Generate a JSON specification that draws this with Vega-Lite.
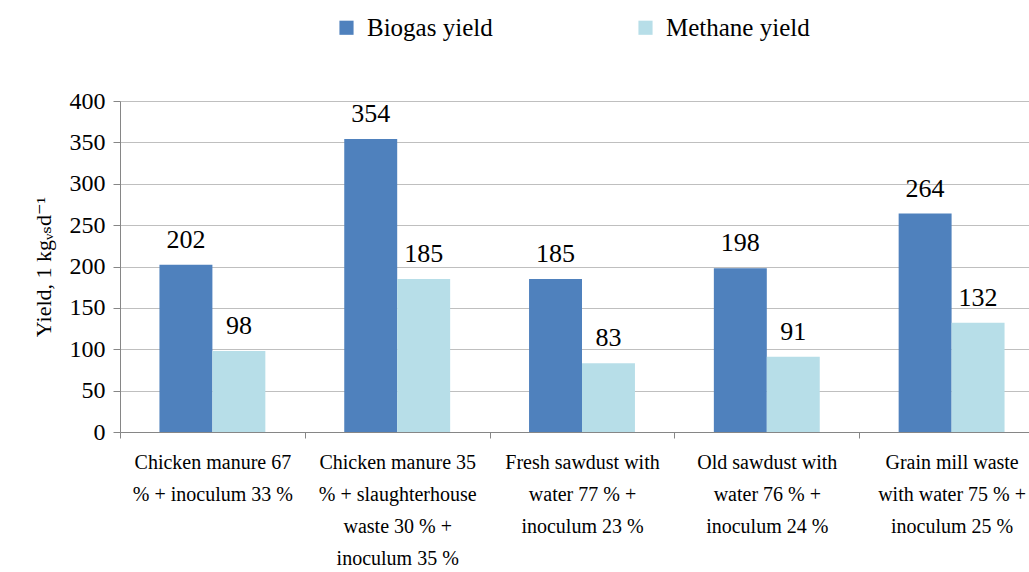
{
  "$schema": "https://vega.github.io/schema/vega-lite/v6.json",
  "width": 924,
  "height": 331,
  "autosize": {"type": "none"},
  "padding": {"left": 120, "top": 101, "right": 0, "bottom": 140},
  "background": "white",
  "config": {
    "view": {"stroke": null},
    "font": "'Liberation Serif', 'DejaVu Serif'",
    "axis": {"labelFont": "'Liberation Serif', 'DejaVu Serif'", "titleFont": "'Liberation Serif', 'DejaVu Serif'", "labelColor": "black", "titleColor": "black", "domainColor": "#868686", "tickColor": "#868686"},
    "legend": {"labelFont": "'Liberation Serif', 'DejaVu Serif'", "labelColor": "black"},
    "text": {"font": "'Liberation Serif', 'DejaVu Serif'"}
  },
  "data": {
    "values": [
      {"cat": "Chicken manure 67|% + inoculum 33 %", "series": "Biogas yield", "value": 202},
      {"cat": "Chicken manure 67|% + inoculum 33 %", "series": "Methane yield", "value": 98},
      {"cat": "Chicken manure 35|% + slaughterhouse|waste 30 % +|inoculum 35 %", "series": "Biogas yield", "value": 354},
      {"cat": "Chicken manure 35|% + slaughterhouse|waste 30 % +|inoculum 35 %", "series": "Methane yield", "value": 185},
      {"cat": "Fresh sawdust with|water 77 % +|inoculum 23 %", "series": "Biogas yield", "value": 185},
      {"cat": "Fresh sawdust with|water 77 % +|inoculum 23 %", "series": "Methane yield", "value": 83},
      {"cat": "Old sawdust with|water 76 % +|inoculum 24 %", "series": "Biogas yield", "value": 198},
      {"cat": "Old sawdust with|water 76 % +|inoculum 24 %", "series": "Methane yield", "value": 91},
      {"cat": "Grain mill waste|with water 75 % +|inoculum 25 %", "series": "Biogas yield", "value": 264},
      {"cat": "Grain mill waste|with water 75 % +|inoculum 25 %", "series": "Methane yield", "value": 132}
    ]
  },
  "encoding": {
    "x": {
      "field": "cat", "type": "nominal", "sort": null,
      "scale": {"paddingInner": 0, "paddingOuter": 0},
      "axis": {
        "title": null, "labelAngle": 0, "labelFontSize": 20, "labelLineHeight": 32,
        "labelExpr": "split(datum.label, '|')", "labelPadding": 14, "labelBaseline": "top",
        "tickBand": "extent", "tickSize": 6, "labelLimit": 300, "domainColor": "#868686"
      }
    },
    "xOffset": {"field": "series", "type": "nominal", "scale": {"paddingOuter": 0.745, "paddingInner": 0}},
    "y": {
      "field": "value", "type": "quantitative",
      "scale": {"domain": [0, 400]},
      "axis": {
        "title": "Yield, 1 kgᵥₛd⁻¹", "titleFontSize": 22, "titleFontWeight": "normal", "titlePadding": 14,
        "labelFontSize": 24, "labelPadding": 8, "values": [0,50,100,150,200,250,300,350,400], "labelOverlap": false,
        "tickSize": 7, "gridColor": "#BFBFBF", "domainColor": "#868686"
      }
    }
  },
  "layer": [
    {
      "mark": {"type": "bar"},
      "encoding": {
        "color": {
          "field": "series", "type": "nominal",
          "scale": {"domain": ["Biogas yield", "Methane yield"], "range": ["#4F81BD", "#B7DEE8"]},
          "legend": {
            "title": null, "orient": "none", "direction": "horizontal", "legendX": 214, "legendY": -86,
            "symbolType": "square", "symbolSize": 200, "symbolStrokeWidth": 0, "labelFontSize": 25,
            "columnPadding": 140, "labelOffset": 8
          }
        }
      }
    },
    {
      "mark": {"type": "text", "fontSize": 26, "baseline": "bottom", "dy": -12, "font": "'Liberation Serif', 'DejaVu Serif'", "color": "black"},
      "encoding": {"text": {"field": "value", "type": "quantitative"}}
    }
  ]
}
